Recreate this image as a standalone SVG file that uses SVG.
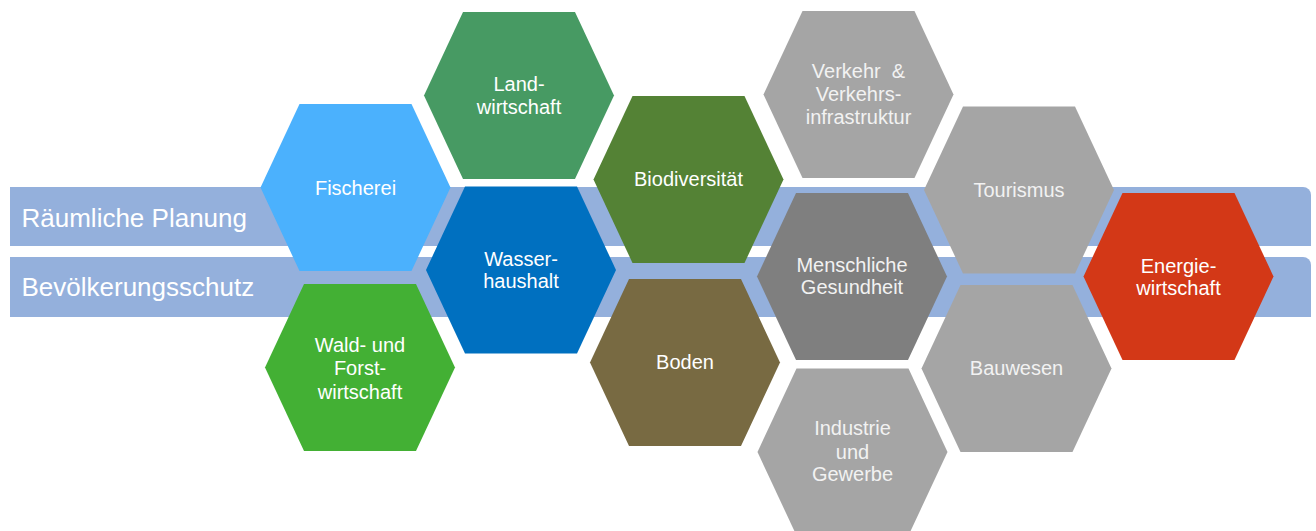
<svg xmlns="http://www.w3.org/2000/svg" xmlns:xlink="http://www.w3.org/1999/xlink" width="1316" height="531" viewBox="0 0 1316 531">
<style>
.band{fill:#94B0DC}
.bt{font-family:"Liberation Sans",Arial,sans-serif;font-size:26px;fill:#FFFFFF}
.ht{font-family:"Liberation Sans",Arial,sans-serif;font-size:20px;fill:#FFFFFF;text-anchor:middle}
.g{fill:#F2F2F2}
</style>
<defs>
<polygon id="hex" points="-95,0 -56,-83.5 56,-83.5 95,0 56,83.5 -56,83.5"/>
</defs>
<rect width="1316" height="531" fill="#FFFFFF"/>
<g id="band-planung">
<path class="band" d="M10,187 H1303 A8,8 0 0 1 1311,195 V246 H10 Z"/>
<text class="bt" x="21.5" y="226.5">Räumliche Planung</text>
</g>
<g id="band-bevoelkerung">
<path class="band" d="M10,257 H1303 A8,8 0 0 1 1311,265 V317 H10 Z"/>
<text class="bt" x="21.5" y="296">Bevölkerungsschutz</text>
</g>
<g id="fischerei" transform="translate(355.5,187.5)">
<use xlink:href="#hex" fill="#4BB1FD"/>
<text class="ht" y="7">Fischerei</text>
</g>
<g id="landwirtschaft" transform="translate(519,95.5)">
<use xlink:href="#hex" fill="#479A63"/>
<text class="ht" y="-4.5">Land-</text>
<text class="ht" y="18.5">wirtschaft</text>
</g>
<g id="wasserhaushalt" transform="translate(521,270)">
<use xlink:href="#hex" fill="#0070C0"/>
<text class="ht" y="-4.5">Wasser-</text>
<text class="ht" y="18">haushalt</text>
</g>
<g id="wald" transform="translate(360,367.5)">
<use xlink:href="#hex" fill="#43B034"/>
<text class="ht" y="-16">Wald- und</text>
<text class="ht" y="7.5">Forst-</text>
<text class="ht" y="31">wirtschaft</text>
</g>
<g id="biodiversitaet" transform="translate(688.5,179.5)">
<use xlink:href="#hex" fill="#548235"/>
<text class="ht" y="6">Biodiversität</text>
</g>
<g id="boden" transform="translate(685,362.5)">
<use xlink:href="#hex" fill="#786A42"/>
<text class="ht" y="6.5">Boden</text>
</g>
<g id="verkehr" transform="translate(858.5,94.5)">
<use xlink:href="#hex" fill="#A5A5A5"/>
<text class="ht g" y="-17" xml:space="preserve">Verkehr  &amp;</text>
<text class="ht g" y="6">Verkehrs-</text>
<text class="ht g" y="29.5">infrastruktur</text>
</g>
<g id="gesundheit" transform="translate(852,276.5)">
<use xlink:href="#hex" fill="#7F7F7F"/>
<text class="ht g" y="-5">Menschliche</text>
<text class="ht g" y="17.5">Gesundheit</text>
</g>
<g id="industrie" transform="translate(852.5,452)">
<use xlink:href="#hex" fill="#A5A5A5"/>
<text class="ht g" y="-17">Industrie</text>
<text class="ht g" y="6.5">und</text>
<text class="ht g" y="29">Gewerbe</text>
</g>
<g id="tourismus" transform="translate(1019,190)">
<use xlink:href="#hex" fill="#A5A5A5"/>
<text class="ht g" y="7">Tourismus</text>
</g>
<g id="bauwesen" transform="translate(1016.5,368.5)">
<use xlink:href="#hex" fill="#A5A5A5"/>
<text class="ht g" y="6.5">Bauwesen</text>
</g>
<g id="energie" transform="translate(1178.5,276.5)">
<use xlink:href="#hex" fill="#D33817"/>
<text class="ht" y="-4">Energie-</text>
<text class="ht" y="18">wirtschaft</text>
</g>
</svg>
